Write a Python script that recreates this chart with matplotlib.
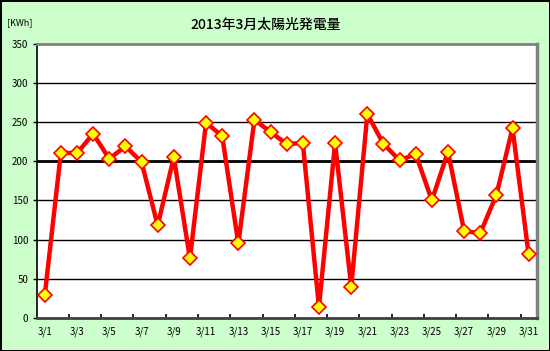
#!/usr/bin/env python3
"""Daily solar generation for March 2013, drawn in the old spreadsheet look."""

import matplotlib
matplotlib.use("Agg")
import matplotlib.pyplot as plt
import numpy as np

plt.rcParams["font.family"] = ["Noto Sans CJK JP", "DejaVu Sans"]

days = [f"3/{d}" for d in range(1, 32)]
kwh = [29, 211, 210, 235, 203, 219, 199, 118, 205, 76,
       249, 232, 95, 253, 237, 222, 223, 14, 223, 40,
       260, 222, 201, 209, 150, 212, 111, 108, 157, 242, 81]
y_ticks = [0, 50, 100, 150, 200, 250, 300, 350]

BG = "#CCFFCC"

fig = plt.figure(figsize=(5.5, 3.51), dpi=100)
fig.patch.set_facecolor(BG)
fig.patch.set_edgecolor("black")
fig.patch.set_linewidth(2)

ax = fig.add_axes([36.7 / 550, 33 / 351, 500 / 550, 274.5 / 351])
ax.set_facecolor("white")

x = np.arange(len(days))
for v in y_ticks[1:-1]:
    ax.axhline(v, color="black", linewidth=2.0 if v == 200 else 1.0, zorder=1)

ax.plot(x, kwh, color="#FF0000", linewidth=3.2, marker="D", markersize=7.5,
        markerfacecolor="#FFFF00", markeredgecolor="#FF0000", markeredgewidth=1.2,
        zorder=3, clip_on=False)

ax.set_xlim(-0.5, len(days) - 0.5)
ax.set_ylim(0, 350)
ax.set_yticks(y_ticks)
ax.set_yticklabels([str(v) for v in y_ticks], fontsize=7)
ax.set_xticks(x[::2])
ax.set_xticklabels(days[::2], fontsize=7)
ax.set_xticks(np.arange(1.5, len(days) - 1, 2), minor=True)
ax.tick_params(axis="x", which="major", length=0, pad=6)
ax.tick_params(axis="x", which="minor", direction="in", length=3, width=1.2)
ax.tick_params(axis="y", direction="out", length=3, width=1, pad=3)

for side in ("top", "right", "bottom"):
    ax.spines[side].set_color("#808080")
    ax.spines[side].set_linewidth(2)
ax.spines["right"].set_linewidth(2.5)
ax.spines["bottom"].set_color("#404040")
ax.spines["left"].set_color("black")
ax.spines["left"].set_linewidth(1.2)

fig.text(266 / 550, 1 - 25 / 351, "2013年3月太陽光発電量", ha="center", va="center",
         fontsize=10, fontweight="medium")
fig.text(7 / 550, 1 - 23 / 351, "[KWh]", ha="left", va="center", fontsize=6.5)

fig.savefig("out.png", dpi=100, facecolor=BG, edgecolor="black")
